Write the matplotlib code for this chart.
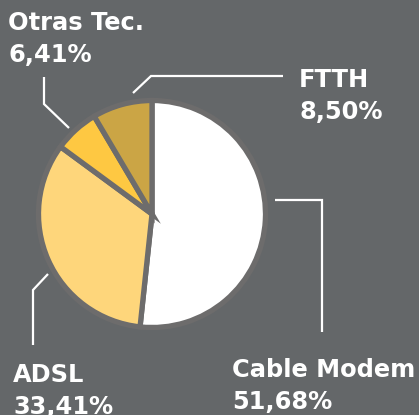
import matplotlib
matplotlib.use('Agg')
import matplotlib.pyplot as plt

# data
labels = ['Cable Modem', 'ADSL', 'Otras Tec.', 'FTTH']
shares = [51.68, 33.41, 6.41, 8.50]
colors = ['#ffffff', '#fed67b', '#fec842', '#cba545']

# layout, in pixels from the top left corner
W, H = 419, 415
cx, cy, rad = 152, 214, 113.5
text_pos = {
    'Cable Modem': (232, 377),
    'ADSL': (13, 382),
    'Otras Tec.': (8, 30),
    'FTTH': (299, 87),
}
leaders = {
    'Cable Modem': [(275, 200), (322, 200), (322, 332)],
    'ADSL': [(48, 274), (33, 290), (33, 345)],
    'Otras Tec.': [(69, 128), (44, 104), (44, 77)],
    'FTTH': [(133, 93), (151, 76), (283, 76)],
}
bg = '#646769'
rim = '#6d6c6c'

fig = plt.figure(figsize=(W / 100, H / 100), dpi=100)
fig.patch.set_facecolor(bg)
ax = fig.add_axes([0, 0, 1, 1])
ax.set_facecolor(bg)

ax.pie(shares, colors=colors, startangle=90, counterclock=False,
       center=(cx, H - cy), radius=rad, frame=True,
       wedgeprops=dict(edgecolor=rim, linewidth=3.8))
ax.set_xlim(0, W)
ax.set_ylim(0, H)
ax.set_aspect('equal')
ax.axis('off')

for lab, val in zip(labels, shares):
    pts = leaders[lab]
    ax.plot([p[0] for p in pts], [H - p[1] for p in pts], color='white',
            lw=1.6, solid_capstyle='butt', solid_joinstyle='miter')
    x, y = text_pos[lab]
    ax.text(x, H - y, lab, color='white', fontsize=17.4, fontweight='bold',
            va='baseline', ha='left')
    pct = f'{val:.2f}%'.replace('.', ',')
    ax.text(x, H - y - 32, pct, color='white', fontsize=17.4,
            fontweight='bold', va='baseline', ha='left')

fig.savefig('out.png', dpi=100, facecolor=bg)
